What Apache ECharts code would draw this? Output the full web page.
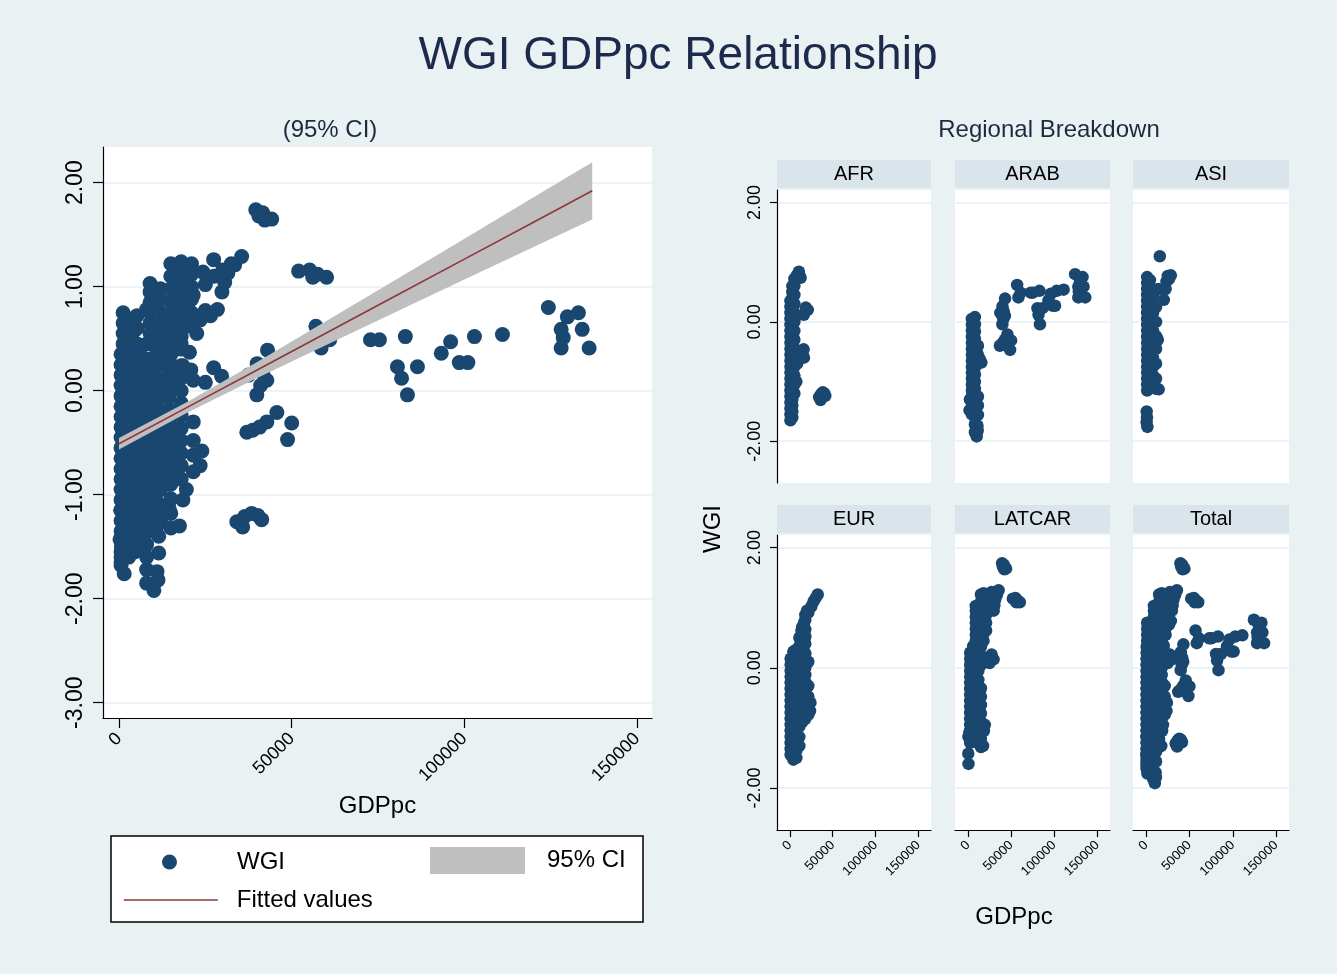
<!DOCTYPE html>
<html>
<head>
<meta charset="utf-8">
<title>WGI GDPpc Relationship</title>
<script src="https://cdn.jsdelivr.net/npm/echarts@6/dist/echarts.min.js"></script>
<style>
  html, body { margin: 0; padding: 0; background: #eaf1f3; }
  #main { width: 1337px; height: 974px; }
</style>
</head>
<body>
<div id="main"></div>
<script>
// columns: [GDPpc, [WGI, WGI, ...]] ; pts: single [GDPpc, WGI]
const afrCols = [
  [600, [-1.65, -1.55, -1.45, -1.35, -1.25, -1.15, -1.05, -0.95, -0.85, -0.75, -0.65, -0.55, -0.45, -0.35, -0.25, -0.15, -0.05, 0.05, 0.15, 0.25, 0.35]],
  [2800, [-1.60, -1.50, -1.40, -1.30, -1.20, -1.10, -1.00, -0.90, -0.80, -0.70, -0.60, -0.50, -0.40, -0.30, -0.20, -0.10, 0.00, 0.10, 0.20, 0.30, 0.40, 0.50, 0.60]],
  [5200, [-1.20, -1.05, -0.90, -0.75, -0.60, -0.45, -0.30, -0.15, 0.00, 0.15, 0.30, 0.45, 0.60, 0.72]]
];
const afrPts = [
  [8000, 0.78], [10500, 0.84], [12500, 0.74], [7500, -1.00], [8500, -0.70],
  [16200, 0.12], [18500, 0.24], [20800, 0.20], [16000, -0.46], [16400, -0.60],
  [34100, -1.26], [35800, -1.31], [36400, -1.21], [38400, -1.18], [40200, -1.20], [41300, -1.24]
];

const arabCols = [
  [4500, [-1.55, -1.45, -1.35, -1.25, -1.15, -1.05, -0.95, -0.85, -0.75, -0.65, -0.55, -0.45, -0.35, -0.25, -0.15, -0.05, 0.05]],
  [8000, [-1.85, -1.72, -1.60, -1.48, -1.36, -1.24, -1.12, -1.00, -0.88, -0.76, -0.64, -0.52, -0.40, -0.28, -0.16, -0.04, 0.08]],
  [11500, [-1.56, -1.40, -1.25, -0.70, -0.55, -0.40]]
];
const arabPts = [
  [10100, -1.92], [11000, -1.74], [11300, -1.82], [13500, -0.62], [15500, -0.68], [1800, -1.48], [2200, -1.30],
  [37000, -0.40], [38700, -0.38], [40700, -0.35], [42800, -0.30], [45700, -0.21], [39900, -0.04], [48800, -0.47],
  [50000, -0.31], [41000, 0.05], [42800, 0.10], [41600, 0.17], [40000, 0.26], [43000, 0.39], [37500, 0.15],
  [57000, 0.62], [58500, 0.41], [61000, 0.49], [72800, 0.49], [75400, 0.49], [80600, 0.23], [81800, 0.12],
  [83500, -0.04], [82900, 0.52], [86400, 0.23], [93300, 0.36], [96000, 0.47], [98500, 0.27], [101000, 0.27],
  [102900, 0.52], [111000, 0.54], [124300, 0.80], [128000, 0.59], [128600, 0.51], [128000, 0.41],
  [129800, 0.71], [133000, 0.75], [134100, 0.59], [136100, 0.41]
];

const asiCols = [
  [1200, [-1.15, -1.05, -0.95, -0.85, -0.75, -0.65, -0.55, -0.45, -0.35, -0.25, -0.15, -0.05, 0.05, 0.15, 0.25, 0.35, 0.45, 0.55, 0.65, 0.75]],
  [4500, [-1.10, -0.98, -0.86, -0.74, -0.62, -0.50, -0.38, -0.26, -0.14, -0.02, 0.10, 0.22, 0.34, 0.46, 0.58, 0.70]],
  [8000, [-1.05, -0.90, -0.75, -0.60, -0.45, -0.30, -0.15, 0.00, 0.15, 0.30, 0.45]],
  [11500, [-1.12, -0.95, -0.70, -0.45, -0.24, 0.00, 0.25]]
];
const asiPts = [
  [14500, -1.13], [13500, -0.30], [15800, 1.10], [14000, 0.55], [20400, 0.37], [22500, 0.55],
  [23500, 0.68], [25000, 0.77], [26500, 0.72], [28500, 0.78],
  [700, -1.50], [1000, -1.60], [600, -1.68], [1500, -1.76]
];

const eurCols = [
  [800, [-1.45, -1.35, -1.25, -1.15, -1.05, -0.95, -0.85, -0.75, -0.65, -0.55, -0.45, -0.35, -0.25, -0.15, -0.05, 0.05, 0.15]],
  [4000, [-1.53, -1.43, -1.33, -1.23, -1.13, -1.03, -0.93, -0.83, -0.73, -0.63, -0.53, -0.43, -0.33, -0.23, -0.13, -0.03, 0.07, 0.17, 0.27]],
  [7500, [-1.50, -1.38, -1.26, -1.14, -1.02, -0.90, -0.78, -0.66, -0.54, -0.42, -0.30, -0.18, -0.06, 0.06, 0.18, 0.30]],
  [11000, [-1.30, -1.15, -0.98, -0.85, -0.72, -0.60, -0.48, -0.36, -0.24, -0.12, 0.00, 0.12, 0.24, 0.36, 0.50]],
  [14500, [-0.90, -0.78, -0.66, -0.54, -0.42, -0.30, -0.18, -0.06, 0.06, 0.18, 0.30, 0.42, 0.55, 0.68]],
  [18000, [-0.85, -0.72, -0.60, -0.48, -0.36, -0.24, -0.12, 0.00, 0.12, 0.24, 0.40, 0.52, 0.64, 0.80, 0.88]],
  [21500, [-0.78, -0.62, -0.48, -0.30, 0.10, 0.92]]
];
const eurPts = [
  [23500, -0.72], [24000, -0.58], [25000, 1.02], [27500, 1.10], [30000, 1.16], [32500, 1.22],
  [16500, 0.75], [13500, 0.62], [20000, 0.95]
];

const latCols = [
  [2500, [-1.25, -1.15, -1.05, -0.95, -0.85, -0.75, -0.65, -0.55, -0.45, -0.35, -0.25, -0.15, -0.05, 0.05, 0.15, 0.25]],
  [6000, [-1.20, -1.08, -0.96, -0.84, -0.72, -0.60, -0.48, -0.36, -0.24, -0.12, 0.00, 0.12, 0.24, 0.36]],
  [9000, [-1.10, -0.90, -0.70, -0.50, -0.30, -0.10, 0.10, 0.30, 0.45, 0.55, 0.65, 0.75, 0.85, 0.95, 1.03]],
  [12000, [-1.25, -1.10, -0.95, -0.80, -0.65, -0.50, -0.35, -0.20, -0.05, 0.10, 0.25, 0.40, 0.52, 0.64, 0.76, 0.88, 0.98]],
  [15000, [-1.32, -1.18, -1.04, -0.90, -0.76, -0.62, -0.48, -0.34, 0.05, 0.20, 0.35, 0.50, 0.62, 0.74, 0.86, 0.98, 1.10, 1.22]],
  [18000, [0.45, 0.57, 0.69, 0.81, 0.93, 1.05, 1.17, 1.24]],
  [21000, [0.62, 0.75, 0.88, 1.00, 1.12, 1.22]]
];
const latPts = [
  [24300, 1.14], [27400, 1.26], [29800, 0.95], [30600, 1.04], [31500, 1.13], [33500, 1.21], [35500, 1.29],
  [27400, 0.22], [29700, 0.14], [25000, 0.08], [18500, -1.05], [17500, -1.30], [19500, -0.95],
  [500, -1.15], [1500, -1.08], [300, -1.43], [600, -1.60],
  [39600, 1.74], [41600, 1.71], [44200, 1.65], [42200, 1.64], [40500, 1.68],
  [52000, 1.15], [55200, 1.16], [57500, 1.12], [60100, 1.09], [56100, 1.09]
];

// linear fit and its 95% band
const fitX = [0, 20000, 40000, 60000, 80000, 100000, 120000, 137000];
const fitY = [-0.51, -0.156, 0.199, 0.554, 0.910, 1.265, 1.620, 1.922];
const ciLow = [-0.566, -0.208, 0.121, 0.439, 0.755, 1.068, 1.381, 1.647];
const ciHigh = [-0.456, -0.105, 0.277, 0.669, 1.065, 1.462, 1.859, 2.197];

const regions = ['AFR', 'ARAB', 'ASI', 'EUR', 'LATCAR', 'Total'];
const xTicks = [0, 50000, 100000, 150000];
const yTicksMain = [-3, -2, -1, 0, 1, 2];
const yTicksPanel = [-2, 0, 2];

function expand(cols, pts) {
  const out = [];
  cols.forEach(function (c) { c[1].forEach(function (y) { out.push([c[0], y]); }); });
  return out.concat(pts);
}

const afr = expand(afrCols, afrPts);
const arab = expand(arabCols, arabPts);
const asi = expand(asiCols, asiPts);
const eur = expand(eurCols, eurPts);
const lat = expand(latCols, latPts);
const total = afr.concat(arab, asi, eur, lat);
const panelData = [afr, arab, asi, eur, lat, total];

const FONT = '"Liberation Sans", Arial, Helvetica, sans-serif';
const NAVY = '#1a476f';
const CI_GRAY = '#bfbfbf';
const FIT_RED = '#90353b';
const fmt = function (v) { return v.toFixed(2); };
const plain = function (v) { return String(v); };

let myChart = echarts.init(document.getElementById('main'));

// panel boxes
const panelLeft = [777, 955, 1133, 777, 955, 1133];
const panelW = [154, 155, 156, 154, 155, 156];
const panelTop = [190, 190, 190, 535, 535, 535];
const panelH = [293, 293, 293, 295, 295, 295];
const stripTop = [160, 160, 160, 505, 505, 505];

const grids = [{ left: 103, top: 147, width: 549, height: 571 }];
const xAxes = [{
  gridIndex: 0, type: 'value', min: -4630, max: 154300,
  axisLine: { show: true, onZero: false, lineStyle: { color: '#000', width: 1.2 } },
  axisTick: { show: true, length: 10, customValues: xTicks, lineStyle: { color: '#000', width: 1.2 } },
  axisLabel: { customValues: xTicks, rotate: 45, fontSize: 18, margin: 18, color: '#000', fontFamily: FONT, formatter: plain },
  splitLine: { show: false },
  name: 'GDPpc', nameLocation: 'middle', nameGap: 76,
  nameTextStyle: { fontSize: 24, color: '#000', fontFamily: FONT }
}];
const yAxes = [{
  gridIndex: 0, type: 'value', min: -3.147, max: 2.343,
  axisLine: { show: true, onZero: false, lineStyle: { color: '#000', width: 1.2 } },
  axisTick: { show: true, length: 10, customValues: yTicksMain, lineStyle: { color: '#000', width: 1.2 } },
  axisLabel: { customValues: yTicksMain, rotate: 90, fontSize: 23, margin: 16, color: '#000', fontFamily: FONT, formatter: fmt },
  splitLine: { show: true, lineStyle: { color: '#e9eff2', width: 1.5 } }
}];

const series = [
  {
    name: 'WGI', type: 'scatter', xAxisIndex: 0, yAxisIndex: 0, z: 2,
    data: total, symbolSize: 15, itemStyle: { color: NAVY, opacity: 1 }
  },
  {
    // band drawn as one polygon through the axis scales, on top of the dots
    name: '95% CI', type: 'custom', xAxisIndex: 0, yAxisIndex: 0, z: 5,
    data: fitX.map(function (x, i) { return [x, ciLow[i], ciHigh[i]]; }),
    itemStyle: { color: CI_GRAY },
    renderItem: function (params, api) {
      if (params.dataIndex !== 0) return null;
      const pts = [];
      for (let j = 0; j < fitX.length; j++) pts.push(api.coord([fitX[j], ciHigh[j]]));
      for (let j = fitX.length - 1; j >= 0; j--) pts.push(api.coord([fitX[j], ciLow[j]]));
      return { type: 'polygon', shape: { points: pts }, style: { fill: CI_GRAY } };
    }
  },
  {
    name: 'Fitted values', type: 'line', xAxisIndex: 0, yAxisIndex: 0, symbol: 'none', z: 6,
    data: fitX.map(function (x, i) { return [x, fitY[i]]; }),
    lineStyle: { color: FIT_RED, width: 1.6 }, itemStyle: { color: FIT_RED }
  }
];

const graphics = [];

regions.forEach(function (r, i) {
  const idx = i + 1;
  const bottomRow = i >= 3;
  const leftCol = i % 3 === 0;
  grids.push({ left: panelLeft[i], top: panelTop[i], width: panelW[i], height: panelH[i] });
  xAxes.push({
    gridIndex: idx, type: 'value', min: -15100, max: 164800,
    axisLine: { show: bottomRow, onZero: false, lineStyle: { color: '#000', width: 1.2 } },
    axisTick: { show: bottomRow, length: 7, customValues: xTicks, lineStyle: { color: '#000', width: 1.2 } },
    axisLabel: { show: bottomRow, customValues: xTicks, rotate: 45, fontSize: 13, margin: 13, color: '#000', fontFamily: FONT, formatter: plain },
    splitLine: { show: false }
  });
  yAxes.push({
    gridIndex: idx, type: 'value', min: -2.70, max: 2.21,
    axisLine: { show: leftCol, onZero: false, lineStyle: { color: '#000', width: 1.2 } },
    axisTick: { show: leftCol, length: 7, customValues: yTicksPanel, lineStyle: { color: '#000', width: 1.2 } },
    axisLabel: { show: leftCol, customValues: yTicksPanel, rotate: 90, fontSize: 18, margin: 13, color: '#000', fontFamily: FONT, formatter: fmt },
    splitLine: { show: true, lineStyle: { color: '#e9eff2', width: 1.5 } }
  });
  series.push({
    name: r, type: 'scatter', xAxisIndex: idx, yAxisIndex: idx,
    data: panelData[i], symbolSize: 12.5, itemStyle: { color: NAVY, opacity: 1 }
  });
  graphics.push({
    type: 'rect',
    shape: { x: panelLeft[i], y: stripTop[i], width: panelW[i], height: 28 },
    style: { fill: '#d9e5eb' },
    textContent: { style: { text: r, fontSize: 20, fill: '#000', fontFamily: FONT } },
    textConfig: { position: 'inside' }
  });
});

grids.forEach(function (g) {
  g.show = true;
  g.backgroundColor = '#ffffff';
  g.borderWidth = 0;
  g.containLabel = false;
  g.outerBoundsMode = 'none';
});

function label(text, x, y, size, color, rot) {
  return {
    type: 'text', x: x, y: y, rotation: rot || 0,
    style: { text: text, fontSize: size, fill: color, fontFamily: FONT, textAlign: 'center', textVerticalAlign: 'middle' }
  };
}

graphics.push(label('WGI GDPpc Relationship', 678, 56, 46, '#1c2a4c'));
graphics.push(label('(95% CI)', 330, 130, 24, '#1c2a40'));
graphics.push(label('Regional Breakdown', 1049, 130, 24, '#1c2a40'));
graphics.push(label('GDPpc', 1014, 917, 24, '#000'));
graphics.push(label('WGI', 713, 529, 24, '#000', Math.PI / 2));
graphics.push({
  type: 'rect', z: 0,
  shape: { x: 111, y: 836, width: 532, height: 86 },
  style: { fill: '#ffffff', stroke: '#000', lineWidth: 1.5 }
});

const legendText = { fontSize: 24, color: '#000', fontFamily: FONT };
myChart.setOption({
  animation: false,
  backgroundColor: '#eaf1f3',
  textStyle: { fontFamily: FONT },
  graphic: graphics,
  legend: [
    {
      data: [{ name: 'WGI', icon: 'circle' }], left: 162, top: 850, padding: 0, itemWidth: 15, itemHeight: 15,
      selectedMode: false, z: 10, textStyle: Object.assign({ padding: [0, 0, 0, 55] }, legendText)
    },
    {
      data: [{ name: '95% CI', icon: 'rect', itemStyle: { color: CI_GRAY } }],
      left: 430, top: 847, padding: 0, itemWidth: 95, itemHeight: 27,
      selectedMode: false, z: 10, textStyle: Object.assign({ padding: [0, 0, 0, 17] }, legendText)
    },
    {
      data: [{ name: 'Fitted values', itemStyle: { opacity: 0 }, lineStyle: { color: FIT_RED, width: 1.6 } }],
      left: 123, top: 888, padding: 0, itemWidth: 94, itemHeight: 26,
      selectedMode: false, z: 10, textStyle: Object.assign({ padding: [0, 0, 0, 14] }, legendText)
    }
  ],
  grid: grids,
  xAxis: xAxes,
  yAxis: yAxes,
  series: series
});
</script>
</body>
</html>
